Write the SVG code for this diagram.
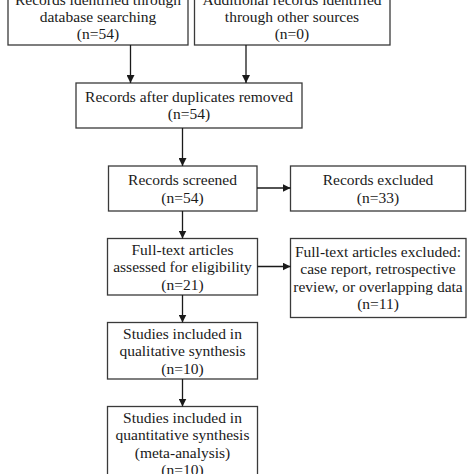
<svg xmlns="http://www.w3.org/2000/svg" width="474" height="474" viewBox="0 0 474 474">
<style>
.box{fill:#fff;stroke:#3a3a3a;stroke-width:1.3}
.t{font-family:"Liberation Serif","Times New Roman",serif;font-size:15.5px;fill:#1a1a1a;text-anchor:middle}
.c{stroke:#1a1a1a;stroke-width:1.3;fill:none;marker-end:url(#ah)}
</style>
<defs>
<marker id="ah" viewBox="0 0 10 10" refX="10" refY="5" markerWidth="8" markerHeight="8" markerUnits="userSpaceOnUse" orient="auto">
<path d="M0,0 L10,5 L0,10 z" fill="#1a1a1a"/>
</marker>
</defs>
<rect width="474" height="474" fill="#fff"/>
<g id="n1"><rect class="box" x="8" y="-20" width="180" height="65"/>
<text class="t" x="98" y="5">Records identified through</text>
<text class="t" x="98" y="21.5">database searching</text>
<text class="t" x="98" y="38.5">(n=54)</text></g>
<g id="n2"><rect class="box" x="194.5" y="-20" width="195.5" height="65"/>
<text class="t" x="292" y="5">Additional records identified</text>
<text class="t" x="292" y="21.5">through other sources</text>
<text class="t" x="292" y="38.5">(n=0)</text></g>
<g id="n3"><rect class="box" x="76" y="83" width="226" height="45"/>
<text class="t" x="189" y="102">Records after duplicates removed</text>
<text class="t" x="189" y="119">(n=54)</text></g>
<g id="n4"><rect class="box" x="108.5" y="166" width="148.5" height="45"/>
<text class="t" x="182.5" y="185">Records screened</text>
<text class="t" x="182.5" y="202.5">(n=54)</text></g>
<g id="n5"><rect class="box" x="290.5" y="166" width="175" height="45"/>
<text class="t" x="378" y="185">Records excluded</text>
<text class="t" x="378" y="202.5">(n=33)</text></g>
<g id="n6"><rect class="box" x="107.5" y="238.5" width="150" height="56.5"/>
<text class="t" x="182.5" y="255">Full-text articles</text>
<text class="t" x="182.5" y="272">assessed for eligibility</text>
<text class="t" x="182.5" y="289.5">(n=21)</text></g>
<g id="n7"><rect class="box" x="290.5" y="238.5" width="175.5" height="79"/>
<text class="t" x="378" y="257">Full-text articles excluded:</text>
<text class="t" x="378" y="274">case report, retrospective</text>
<text class="t" x="378" y="291.5">review, or overlapping data</text>
<text class="t" x="378" y="309">(n=11)</text></g>
<g id="n8"><rect class="box" x="107.5" y="322.5" width="150" height="56.5"/>
<text class="t" x="182.5" y="339">Studies included in</text>
<text class="t" x="182.5" y="356">qualitative synthesis</text>
<text class="t" x="182.5" y="373.5">(n=10)</text></g>
<g id="n9"><rect class="box" x="107.5" y="406.5" width="150" height="90"/>
<text class="t" x="182.5" y="423">Studies included in</text>
<text class="t" x="182.5" y="440">quantitative synthesis</text>
<text class="t" x="182.5" y="457.5">(meta-analysis)</text>
<text class="t" x="182.5" y="475">(n=10)</text></g>
<g id="connectors">
<line class="c" x1="130.5" y1="45" x2="130.5" y2="83"/>
<line class="c" x1="246" y1="45" x2="246" y2="83"/>
<line class="c" x1="182.5" y1="128" x2="182.5" y2="166"/>
<line class="c" x1="257" y1="188" x2="290.5" y2="188"/>
<line class="c" x1="182.5" y1="211" x2="182.5" y2="238.5"/>
<line class="c" x1="257.5" y1="266.5" x2="290.5" y2="266.5"/>
<line class="c" x1="182.5" y1="295" x2="182.5" y2="322.5"/>
<line class="c" x1="182.5" y1="379" x2="182.5" y2="406.5"/>
</g>
</svg>
